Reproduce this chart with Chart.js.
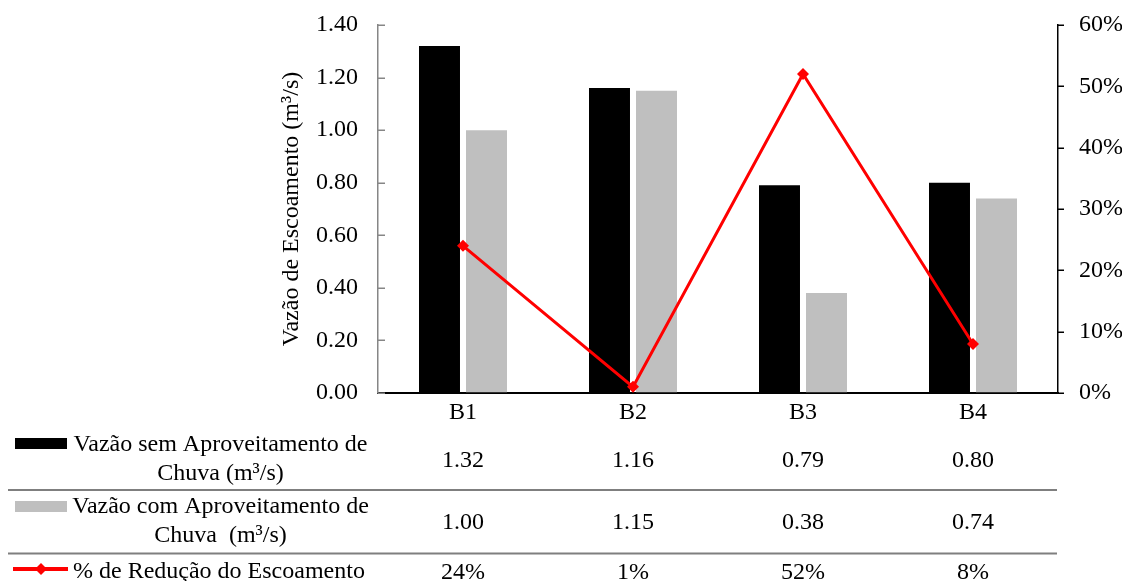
<!DOCTYPE html>
<html>
<head>
<meta charset="utf-8">
<script src="https://cdn.jsdelivr.net/npm/chart.js@4/dist/chart.umd.min.js"></script>
<style>
  html, body { margin: 0; padding: 0; background: #fff; }
  #wrap { width: 1122px; height: 581px; }
</style>
</head>
<body>
<div id="wrap"><canvas id="c" width="1122" height="581"></canvas></div>
<script>
const categories = ['B1', 'B2', 'B3', 'B4'];
const vazaoSem = [1.32, 1.16, 0.79, 0.80];
const vazaoCom = [1.00, 1.15, 0.38, 0.74];
const reducao = [24, 1, 52, 8];
const leftTicks = [0, 0.2, 0.4, 0.6, 0.8, 1.0, 1.2, 1.4];
const rightTicks = [0, 10, 20, 30, 40, 50, 60];
const labelSem = ['Vazão sem Aproveitamento de', 'Chuva (m³/s)'];
const labelCom = ['Vazão com Aproveitamento de', 'Chuva  (m³/s)'];
const labelRed = ['% de Redução do Escoamento'];
const yTitle = 'Vazão de Escoamento (m³/s)';

const FONT = 'Liberation Serif';
const FS = 24;
const RED = '#FF0000';
const GRAY = '#BFBFBF';
const AXIS_GRAY = '#868686';

// inner tick marks on left axis, outer tick marks on right axis
const tickMarksPlugin = {
  id: 'tickMarks',
  afterDraw(chart) {
    const ctx = chart.ctx;
    const y = chart.scales.y, y1 = chart.scales.y1;
    const area = chart.chartArea;
    ctx.save();
    ctx.lineWidth = 1.5;
    ctx.strokeStyle = AXIS_GRAY;
    leftTicks.forEach(v => {
      const py = Math.round(y.getPixelForValue(v)) + 0.25;
      ctx.beginPath();
      ctx.moveTo(area.left, py);
      ctx.lineTo(area.left + 7, py);
      ctx.stroke();
    });
    ctx.strokeStyle = '#000';
    rightTicks.forEach(v => {
      const py = Math.round(y1.getPixelForValue(v)) + 0.25;
      ctx.beginPath();
      ctx.moveTo(area.right, py);
      ctx.lineTo(area.right + 6, py);
      ctx.stroke();
    });
    ctx.restore();
  }
};

const tablePlugin = {
  id: 'dataTable',
  afterDraw(chart) {
    const ctx = chart.ctx;
    const x = chart.scales.x;
    ctx.save();
    ctx.strokeStyle = '#7f7f7f';
    ctx.lineWidth = 2;
    [490, 553.5].forEach(yy => {
      ctx.beginPath();
      ctx.moveTo(8, yy);
      ctx.lineTo(1057, yy);
      ctx.stroke();
    });
    ctx.fillStyle = '#000';
    ctx.fillRect(15, 438, 52, 11);
    ctx.fillStyle = GRAY;
    ctx.fillRect(15, 501, 52, 11);
    ctx.strokeStyle = RED;
    ctx.lineWidth = 4;
    ctx.beginPath();
    ctx.moveTo(13, 569);
    ctx.lineTo(68, 569);
    ctx.stroke();
    ctx.fillStyle = RED;
    ctx.beginPath();
    ctx.moveTo(41, 563); ctx.lineTo(47, 569); ctx.lineTo(41, 575); ctx.lineTo(35, 569);
    ctx.closePath();
    ctx.fill();

    ctx.font = FS + 'px "' + FONT + '"';
    ctx.fillStyle = '#000';
    ctx.textBaseline = 'alphabetic';
    ctx.textAlign = 'center';
    const lblX = 220.5;
    ctx.fillText(labelSem[0], lblX, 450.5);
    ctx.fillText(labelSem[1], lblX, 479.5);
    ctx.fillText(labelCom[0], lblX, 513);
    ctx.fillText(labelCom[1], lblX, 541.5);
    ctx.textAlign = 'left';
    ctx.fillText(labelRed[0], 73, 578);
    ctx.textAlign = 'center';
    categories.forEach((c, i) => {
      const px = x.getPixelForValue(i);
      ctx.fillText(vazaoSem[i].toFixed(2), px, 467);
      ctx.fillText(vazaoCom[i].toFixed(2), px, 528.5);
      ctx.fillText(reducao[i] + '%', px, 578.5);
    });
    ctx.restore();
  }
};

new Chart(document.getElementById('c'), {
  data: {
    labels: categories,
    datasets: [
      {
        type: 'line',
        label: labelRed[0],
        data: reducao,
        yAxisID: 'y1',
        borderColor: RED,
        backgroundColor: RED,
        borderWidth: 3,
        pointStyle: 'rectRot',
        pointRadius: 6,
        pointBorderWidth: 0,
        tension: 0,
        order: 0
      },
      {
        type: 'bar',
        label: labelSem.join(' '),
        data: vazaoSem,
        yAxisID: 'y',
        backgroundColor: '#000',
        categoryPercentage: 0.553,
        barPercentage: 0.872,
        order: 1
      },
      {
        type: 'bar',
        label: labelCom.join(' '),
        data: vazaoCom,
        yAxisID: 'y',
        backgroundColor: GRAY,
        categoryPercentage: 0.553,
        barPercentage: 0.872,
        order: 2
      }
    ]
  },
  options: {
    responsive: false,
    animation: false,
    devicePixelRatio: 1,
    layout: { padding: { left: 277, top: 25, right: 0, bottom: 0 } },
    plugins: { legend: { display: false }, tooltip: { enabled: false } },
    scales: {
      x: {
        type: 'category',
        grid: { drawOnChartArea: false, drawTicks: false },
        border: { display: true, color: '#000', width: 2 },
        ticks: { color: '#000', font: { family: FONT, size: FS }, padding: 5 },
        afterFit: s => { s.height = 581 - 393; }
      },
      y: {
        position: 'left',
        min: 0, max: 1.4,
        afterBuildTicks: s => { s.ticks = leftTicks.map(v => ({ value: v })); },
        ticks: {
          color: '#000',
          font: { family: FONT, size: FS },
          padding: 3,
          callback: v => Number(v).toFixed(2)
        },
        grid: { drawOnChartArea: false, tickLength: 17, tickColor: 'rgba(0,0,0,0)', color: AXIS_GRAY, lineWidth: 1.5 },
        border: { display: true, color: AXIS_GRAY, width: 1.5 },
        title: {
          display: true, text: yTitle, color: '#000',
          font: { family: FONT, size: FS }, padding: { top: 0, bottom: 0 }
        },
        afterFit: s => { s.width = 378 - 277; }
      },
      y1: {
        position: 'right',
        min: 0, max: 60,
        afterBuildTicks: s => { s.ticks = rightTicks.map(v => ({ value: v })); },
        ticks: {
          color: '#000',
          font: { family: FONT, size: FS },
          padding: 3,
          callback: v => v + '%'
        },
        grid: { drawOnChartArea: false, tickLength: 18, tickColor: 'rgba(0,0,0,0)', color: '#000', lineWidth: 1.5 },
        border: { display: true, color: '#000', width: 1.5 },
        afterFit: s => { s.width = 1122 - 1058; }
      }
    }
  },
  plugins: [tickMarksPlugin, tablePlugin]
});
</script>
</body>
</html>
